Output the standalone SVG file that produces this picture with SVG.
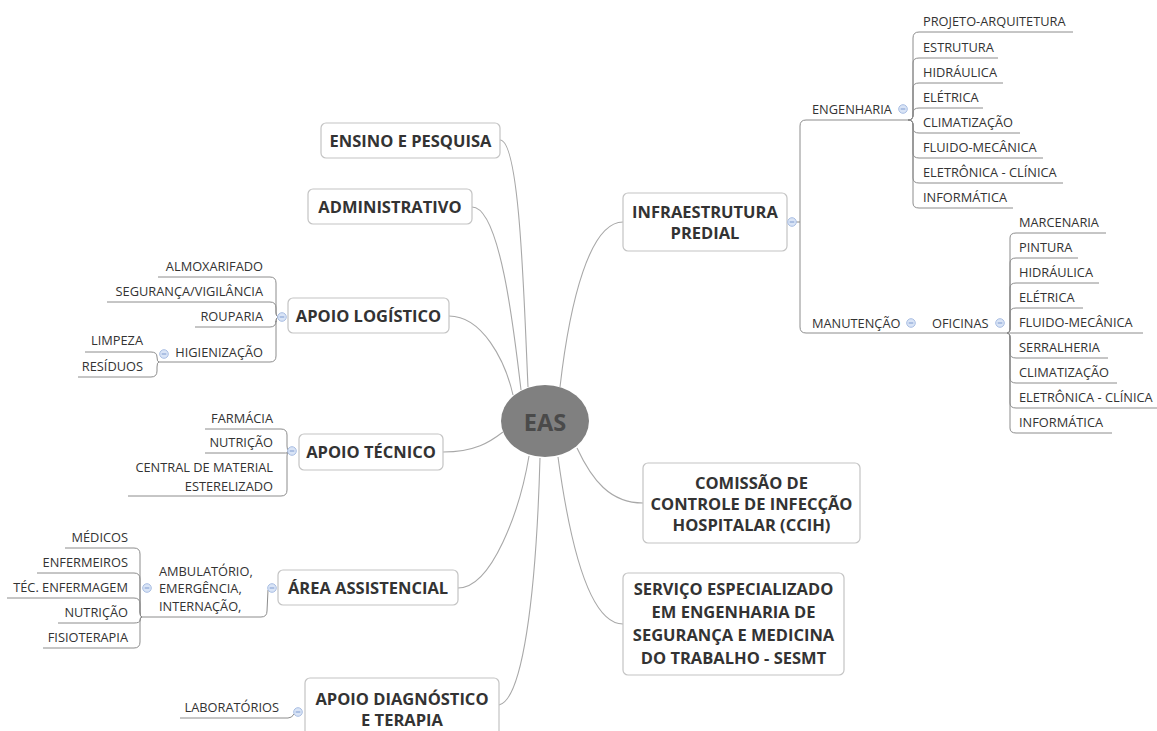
<svg xmlns="http://www.w3.org/2000/svg" xmlns:xlink="http://www.w3.org/1999/xlink" width="1157" height="731" viewBox="0 0 1157 731">
<style>
.box{fill:#fff;stroke:#c4c4c4;stroke-width:1.2}
.main{font-family:"Open Sans","Noto Sans",sans-serif;font-weight:bold;font-size:16.5px;fill:#333;text-anchor:middle}
.sub{font-family:"Open Sans","Noto Sans",sans-serif;font-size:12.8px;fill:#333}
.r{text-anchor:end}
.conn path{fill:none;stroke:#a8a8a8;stroke-width:1.1}
.ul path{fill:none;stroke:#8c8c8c;stroke-width:1}
</style>
<defs>
<g id="col"><circle r="4.3" fill="#d9e4f6" stroke="#a9bee3" stroke-width="1"/><line x1="-2.3" y1="0" x2="2.3" y2="0" stroke="#7f9bd0" stroke-width="1"/></g>
</defs>
<rect width="1157" height="731" fill="#fff"/>

<g id="connectors" class="conn">
<path d="M500,140 C520,140 524,300 528,387"/>
<path d="M472,207 C500,207 514,330 521,390"/>
<path d="M449,316 C482,316 505,360 513,395"/>
<path d="M443,452 C475,452 490,442 503,432"/>
<path d="M458,588 C492,588 520,510 529,456"/>
<path d="M499,705 C522,700 536,600 540,458"/>
<path d="M560,387 C570,300 590,222 623,222"/>
<path d="M577,448 C592,480 610,503 643,503"/>
<path d="M558,457 C570,545 590,624 623,624"/>
</g>

<g id="center">
<ellipse cx="545" cy="421" rx="44" ry="36" fill="#808080"/>
<text x="545" y="431" style="font-family:'Open Sans','Noto Sans',sans-serif;font-weight:bold;font-size:23.5px;fill:#4a4a4a" text-anchor="middle">EAS</text>
</g>

<g id="ensino"><rect class="box" x="321" y="123" width="179" height="35" rx="5"/><text class="main" x="410.5" y="146.5">ENSINO E PESQUISA</text></g>
<g id="admin"><rect class="box" x="308" y="189" width="164" height="35" rx="5"/><text class="main" x="390" y="212.5">ADMINISTRATIVO</text></g>
<g id="logistico"><rect class="box" x="288" y="298" width="161" height="35" rx="5"/><text class="main" x="368.5" y="321.5">APOIO LOGÍSTICO</text></g>
<g id="tecnico"><rect class="box" x="299" y="434" width="144" height="36" rx="5"/><text class="main" x="371" y="458">APOIO TÉCNICO</text></g>
<g id="assistencial"><rect class="box" x="278" y="570" width="180" height="35" rx="5"/><text class="main" x="368" y="593.5">ÁREA ASSISTENCIAL</text></g>
<g id="diagnostico"><rect class="box" x="305" y="678" width="194" height="70" rx="5"/><text class="main" x="402" y="705">APOIO DIAGNÓSTICO</text><text class="main" x="402" y="726">E TERAPIA</text></g>
<g id="infra"><rect class="box" x="623" y="193" width="164" height="58" rx="5"/><text class="main" x="705" y="218">INFRAESTRUTURA</text><text class="main" x="705" y="239">PREDIAL</text></g>
<g id="ccih"><rect class="box" x="643" y="463" width="217" height="80" rx="5"/><text class="main" x="751.5" y="489">COMISSÃO DE</text><text class="main" x="751.5" y="510">CONTROLE DE INFECÇÃO</text><text class="main" x="751.5" y="531">HOSPITALAR (CCIH)</text></g>
<g id="sesmt"><rect class="box" x="623" y="573" width="221" height="102" rx="5"/><text class="main" x="733.5" y="595">SERVIÇO ESPECIALIZADO</text><text class="main" x="733.5" y="618">EM ENGENHARIA DE</text><text class="main" x="733.5" y="641">SEGURANÇA E MEDICINA</text><text class="main" x="733.5" y="664">DO TRABALHO - SESMT</text></g>

<!-- Infraestrutura branch -->
<g id="infra-branch">
<g class="ul">
<path d="M796,222 L800,222"/>
<path d="M908,120 L806,120 Q800,120 800,126 L800,327 Q800,333 806,333 L1007,333"/>
<path d="M908,120 Q913,120 913,115 L913,38 Q913,32 919,32 L1073,32"/>
<path d="M908,120 Q913,120 913,115 L913,63 Q913,58 919,58 L998,58"/>
<path d="M908,120 Q913,120 913,115 L913,88 Q913,83 919,83 L1003,83"/>
<path d="M908,120 Q913,120 913,115 L913,113 Q913,108 919,108 L983,108"/>
<path d="M908,120 Q913,120 913,125 L913,128 Q913,133 919,133 L1020,133"/>
<path d="M908,120 Q913,120 913,125 L913,153 Q913,158 919,158 L1043,158"/>
<path d="M908,120 Q913,120 913,125 L913,178 Q913,183 919,183 L1063,183"/>
<path d="M908,120 Q913,120 913,125 L913,203 Q913,208 919,208 L1013,208"/>
<path d="M1007,333 Q1010,333 1010,328 L1010,238 Q1010,233 1016,233 L1106,233"/>
<path d="M1007,333 Q1010,333 1010,328 L1010,263 Q1010,258 1016,258 L1078,258"/>
<path d="M1007,333 Q1010,333 1010,328 L1010,288 Q1010,283 1016,283 L1099,283"/>
<path d="M1007,333 Q1010,333 1010,328 L1010,313 Q1010,308 1016,308 L1083,308"/>
<path d="M1007,333 L1143,333"/>
<path d="M1007,333 Q1010,333 1010,338 L1010,353 Q1010,358 1016,358 L1108,358"/>
<path d="M1007,333 Q1010,333 1010,338 L1010,378 Q1010,383 1016,383 L1117,383"/>
<path d="M1007,333 Q1010,333 1010,338 L1010,403 Q1010,408 1016,408 L1157,408"/>
<path d="M1007,333 Q1010,333 1010,338 L1010,428 Q1010,433 1016,433 L1112,433"/>
</g>
<use xlink:href="#col" x="792" y="222"/>
<use xlink:href="#col" x="903" y="109"/>
<use xlink:href="#col" x="911" y="323"/>
<use xlink:href="#col" x="1000" y="323"/>
<text class="sub" x="812" y="114">ENGENHARIA</text>
<text class="sub" x="812" y="328">MANUTENÇÃO</text>
<text class="sub" x="932" y="328">OFICINAS</text>
<text class="sub" x="923" y="26">PROJETO-ARQUITETURA</text>
<text class="sub" x="923" y="52">ESTRUTURA</text>
<text class="sub" x="923" y="77">HIDRÁULICA</text>
<text class="sub" x="923" y="102">ELÉTRICA</text>
<text class="sub" x="923" y="127">CLIMATIZAÇÃO</text>
<text class="sub" x="923" y="152">FLUIDO-MECÂNICA</text>
<text class="sub" x="923" y="177">ELETRÔNICA - CLÍNICA</text>
<text class="sub" x="923" y="202">INFORMÁTICA</text>
<text class="sub" x="1019" y="227">MARCENARIA</text>
<text class="sub" x="1019" y="252">PINTURA</text>
<text class="sub" x="1019" y="277">HIDRÁULICA</text>
<text class="sub" x="1019" y="302">ELÉTRICA</text>
<text class="sub" x="1019" y="327">FLUIDO-MECÂNICA</text>
<text class="sub" x="1019" y="352">SERRALHERIA</text>
<text class="sub" x="1019" y="377">CLIMATIZAÇÃO</text>
<text class="sub" x="1019" y="402">ELETRÔNICA - CLÍNICA</text>
<text class="sub" x="1019" y="427">INFORMÁTICA</text>
</g>

<!-- Apoio logistico branch -->
<g id="logistico-branch">
<g class="ul">
<path d="M279,317 Q276,317 276,312 L276,283 Q276,277 270,277 L158,277"/>
<path d="M279,317 Q276,317 276,312 L276,308 Q276,302 270,302 L107,302"/>
<path d="M279,317 Q276,317 276,322 L276,321 Q276,327 270,327 L195,327"/>
<path d="M279,317 Q276,317 276,322 L276,356 Q276,362 270,362 L159,362"/>
<path d="M159,362 Q157,362 157,357 L157,357 Q157,352 151,352 L85,352"/>
<path d="M159,362 Q157,362 157,367 L157,371 Q157,377 151,377 L78,377"/>
</g>
<use xlink:href="#col" x="282" y="317"/>
<use xlink:href="#col" x="164" y="354"/>
<text class="sub r" x="263" y="271">ALMOXARIFADO</text>
<text class="sub r" x="263" y="296">SEGURANÇA/VIGILÂNCIA</text>
<text class="sub r" x="263" y="321">ROUPARIA</text>
<text class="sub r" x="263" y="357">HIGIENIZAÇÃO</text>
<text class="sub r" x="143" y="345">LIMPEZA</text>
<text class="sub r" x="143" y="371">RESÍDUOS</text>
</g>

<!-- Apoio tecnico branch -->
<g id="tecnico-branch">
<g class="ul">
<path d="M289,451 Q287,451 287,446 L287,435 Q287,429 281,429 L205,429"/>
<path d="M289,451 Q287,451 287,453 Q287,453 281,453 L205,453"/>
<path d="M289,451 Q287,451 287,456 L287,490 Q287,496 281,496 L128,496"/>
</g>
<use xlink:href="#col" x="292" y="451"/>
<text class="sub r" x="273" y="423">FARMÁCIA</text>
<text class="sub r" x="273" y="447">NUTRIÇÃO</text>
<text class="sub r" x="273" y="472">CENTRAL DE MATERIAL</text>
<text class="sub r" x="273" y="491">ESTERELIZADO</text>
</g>

<!-- Area assistencial branch -->
<g id="assistencial-branch">
<g class="ul">
<path d="M268,590 L267,611 Q267,617 261,617 L142,617"/>
<path d="M142,617 Q140,617 140,612 L140,554 Q140,548 134,548 L65,548"/>
<path d="M142,617 Q140,617 140,612 L140,579 Q140,573 134,573 L37,573"/>
<path d="M142,617 Q140,617 140,612 L140,604 Q140,598 134,598 L7,598"/>
<path d="M142,617 Q140,617 140,620 Q140,623 134,623 L58,623"/>
<path d="M142,617 Q140,617 140,622 L140,642 Q140,648 134,648 L43,648"/>
</g>
<use xlink:href="#col" x="272" y="588"/>
<use xlink:href="#col" x="147" y="588"/>
<text class="sub" x="159" y="576">AMBULATÓRIO,</text>
<text class="sub" x="159" y="593">EMERGÊNCIA,</text>
<text class="sub" x="159" y="611">INTERNAÇÃO,</text>
<text class="sub r" x="128" y="542">MÉDICOS</text>
<text class="sub r" x="128" y="567">ENFERMEIROS</text>
<text class="sub r" x="128" y="592">TÉC. ENFERMAGEM</text>
<text class="sub r" x="128" y="617">NUTRIÇÃO</text>
<text class="sub r" x="128" y="642">FISIOTERAPIA</text>
</g>

<!-- Apoio diagnostico branch -->
<g id="diagnostico-branch">
<g class="ul">
<path d="M294,714 Q292,718 288,718 L180,718"/>
</g>
<use xlink:href="#col" x="298" y="712"/>
<text class="sub r" x="279" y="712">LABORATÓRIOS</text>
</g>
</svg>
